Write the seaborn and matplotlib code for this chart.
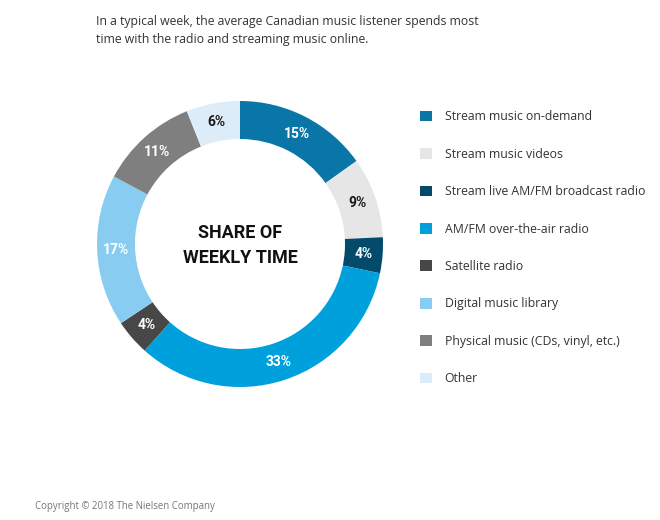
import matplotlib
matplotlib.use("Agg")
import matplotlib.pyplot as plt
import seaborn as sns
import numpy as np

sns.set_theme(style="white")
plt.rcParams["font.family"] = ["Open Sans", "DejaVu Sans"]

# ── data ──
categories = [
    "Stream music on-demand",
    "Stream music videos",
    "Stream live AM/FM broadcast radio",
    "AM/FM over-the-air radio",
    "Satellite radio",
    "Digital music library",
    "Physical music (CDs, vinyl, etc.)",
    "Other",
]
shares = [15, 9, 4, 33, 4, 17, 11, 6]
colors = ["#0a76a8", "#e6e6e6", "#034a6b", "#00a0dc", "#474747", "#88cdf1", "#7f7f7f", "#dcedf9"]
label_colors = ["white", "#1a1a1a", "white", "white", "white", "white", "white", "#1a1a1a"]

cond_family = ["Roboto", "DejaVu Sans"]

fig = plt.figure(figsize=(6.6, 5.2), dpi=100)
fig.patch.set_facecolor("white")

# donut axes: 300x300 px centred at (240, 244)
ax = fig.add_axes([(240 - 150) / 660, (520 - 244 - 150) / 520, 300 / 660, 300 / 520])
R_OUT, R_IN = 143 / 150, 105 / 150
wedges, _ = ax.pie(
    shares,
    colors=colors,
    startangle=90,
    counterclock=False,
    radius=R_OUT,
    wedgeprops=dict(width=R_OUT - R_IN, edgecolor="none"),
)
r_lab = (R_OUT + R_IN) / 2
for w, v, lc in zip(wedges, shares, label_colors):
    ang = np.deg2rad((w.theta1 + w.theta2) / 2)
    ax.text(r_lab * np.cos(ang), r_lab * np.sin(ang), f"{v}%", ha="center", va="center",
            fontsize=10, fontweight="bold", color=lc, family=cond_family)
ax.text(0, -0.01, "SHARE OF\nWEEKLY TIME", ha="center", va="center", fontsize=13,
        fontweight="bold", color="#111111", family=cond_family, linespacing=1.5)
ax.set_xlim(-1, 1)
ax.set_ylim(-1, 1)
ax.set_aspect("equal")
ax.axis("off")

# legend
handles = [plt.Rectangle((0, 0), 1, 1, fc=c, ec="none") for c in colors]
fig.legend(
    handles=handles,
    labels=categories,
    loc="upper left",
    bbox_to_anchor=(414 / 660, 1 - 104 / 520),
    frameon=False,
    fontsize=8.85,
    labelspacing=1.99,
    handlelength=0.95,
    handleheight=0.95,
    handletextpad=1.05,
    borderpad=0,
    labelcolor="#333333",
)

fig.text(96 / 660, 1 - 30.5 / 520, "In a typical week, the average Canadian music listener spends most\n"
         "time with the radio and streaming music online.", ha="left", va="center",
         fontsize=8.8, color="#333333", linespacing=1.55)
fig.text(35 / 660, 1 - 507 / 520, "Copyright \u00a9 2018 The Nielsen Company", ha="left", va="center",
         fontsize=6.9, color="#777777")

fig.savefig("out.png", dpi=100, facecolor="white")
